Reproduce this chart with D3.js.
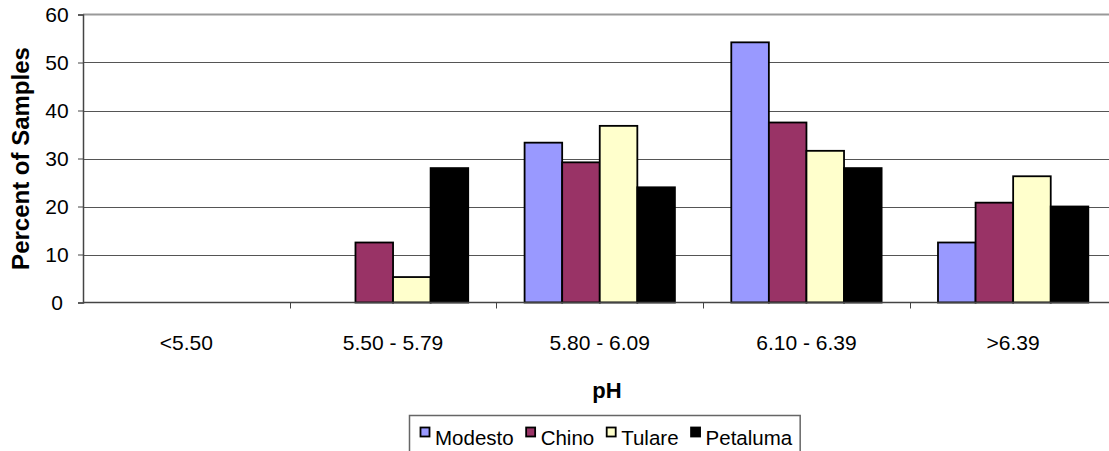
<!DOCTYPE html>
<html>
<head>
<meta charset="utf-8">
<script src="https://cdn.jsdelivr.net/npm/d3@7/dist/d3.min.js"></script>
<style>
  html, body { margin: 0; padding: 0; background: #fff; }
  svg { display: block; }
  text { font-family: Arial, "Liberation Sans", sans-serif; fill: #000; }
</style>
</head>
<body>
<svg id="chart" width="1109" height="451"></svg>
<script>
// pH ranges and percent of samples in each range, per site
const categories = ["<5.50", "5.50 - 5.79", "5.80 - 6.09", "6.10 - 6.39", ">6.39"];
const seriesNames = ["Modesto", "Chino", "Tulare", "Petaluma"];
const modesto  = [0, 0, 33.3, 54.2, 12.5];
const chino    = [0, 12.5, 29.2, 37.5, 20.8];
const tulare   = [0, 5.3, 36.8, 31.6, 26.3];
const petaluma = [0, 28.0, 24.0, 28.0, 20.0];
const seriesValues = [modesto, chino, tulare, petaluma];
const seriesColors = ["#9999FF", "#993366", "#FFFFCC", "#000000"];
const yTicks = [0, 10, 20, 30, 40, 50, 60];

const svg = d3.select("#chart");

const plot = { left: 83, right: 1116.5, top: 14.5, bottom: 302.5 };

const x = d3.scaleBand()
  .domain(categories)
  .range([plot.left, plot.right])
  .paddingInner(0).paddingOuter(0);

// four bars per group, with the gap between groups 1.5 bar widths
const barW = x.bandwidth() / 5.5;
const xInner = d3.scaleBand()
  .domain(seriesNames)
  .range([barW * 0.75, barW * 4.75])
  .padding(0);

const y = d3.scaleLinear().domain([0, 60]).range([plot.bottom, plot.top]);

// horizontal gridlines
svg.append("g")
  .selectAll("line")
  .data(yTicks.filter(t => t > 0 && t < 60))
  .join("line")
  .attr("x1", plot.left).attr("x2", plot.right)
  .attr("y1", d => Math.round(y(d)) + 0.5).attr("y2", d => Math.round(y(d)) + 0.5)
  .attr("stroke", "#555").attr("stroke-width", 1);

// plot area top border
svg.append("line")
  .attr("x1", plot.left).attr("x2", plot.right)
  .attr("y1", y(60)).attr("y2", y(60))
  .attr("stroke", "#999").attr("stroke-width", 2);

// bars
const groups = svg.append("g")
  .selectAll("g")
  .data(categories)
  .join("g")
  .attr("transform", d => `translate(${x(d)},0)`);

groups.selectAll("rect")
  .data((c, i) => seriesNames.map((s, k) => ({ s, k, v: seriesValues[k][i] })).filter(d => d.v > 0))
  .join("rect")
  .attr("x", d => xInner(d.s))
  .attr("width", xInner.bandwidth())
  .attr("y", d => y(d.v))
  .attr("height", d => y(0) - y(d.v))
  .attr("fill", d => seriesColors[d.k])
  .attr("stroke", "#000")
  .attr("stroke-width", 1.8);

// y axis (labels centred in a column left of the ticks)
const yAxis = svg.append("g")
  .attr("transform", `translate(${plot.left},0)`)
  .call(d3.axisLeft(y).tickValues(yTicks).tickSize(5).tickPadding(0).tickFormat(d3.format("d")));
yAxis.select(".domain").attr("stroke", "#444").attr("stroke-width", 1.5);
yAxis.selectAll(".tick line").attr("stroke", "#444");
yAxis.selectAll(".tick text")
  .attr("x", 57 - plot.left)
  .attr("text-anchor", "middle")
  .style("font-family", "Arial, 'Liberation Sans', sans-serif")
  .style("font-size", "21px").attr("fill", "#000");

// x axis
svg.append("line")
  .attr("x1", plot.left).attr("x2", plot.right)
  .attr("y1", plot.bottom).attr("y2", plot.bottom)
  .attr("stroke", "#444").attr("stroke-width", 1.5);
svg.append("g")
  .selectAll("line")
  .data(categories.slice(1))
  .join("line")
  .attr("x1", d => Math.round(x(d)) + 0.5).attr("x2", d => Math.round(x(d)) + 0.5)
  .attr("y1", plot.bottom).attr("y2", plot.bottom + 6)
  .attr("stroke", "#444");

svg.append("g")
  .selectAll("text")
  .data(categories)
  .join("text")
  .attr("x", d => x(d) + x.bandwidth() / 2)
  .attr("y", 349.5)
  .attr("text-anchor", "middle")
  .style("font-size", "21px")
  .text(d => d);

// axis titles
svg.append("text")
  .attr("x", 607)
  .attr("y", 398)
  .attr("text-anchor", "middle")
  .style("font-size", "22px").style("font-weight", "bold")
  .text("pH");

svg.append("text")
  .attr("transform", `translate(29,${(plot.top + plot.bottom) / 2}) rotate(-90)`)
  .attr("text-anchor", "middle")
  .style("font-size", "24px").style("font-weight", "bold")
  .text("Percent of Samples");

// legend
const legend = svg.append("g");
const legendBox = legend.append("rect")
  .attr("x", 409.5).attr("y", 415.5)
  .attr("height", 60)
  .attr("fill", "#fff").attr("stroke", "#666").attr("stroke-width", 1.5);

let lx = 420;
seriesNames.forEach((name, k) => {
  legend.append("rect")
    .attr("x", lx + 0.5).attr("y", 427.5)
    .attr("width", 9).attr("height", 9)
    .attr("fill", seriesColors[k])
    .attr("stroke", "#000").attr("stroke-width", 1.8);
  const t = legend.append("text")
    .attr("x", lx + 15).attr("y", 445)
    .style("font-size", "20.5px")
    .text(name);
  lx += 15 + t.node().getComputedTextLength() + 12;
});
legendBox.attr("width", lx - 409.5 - 4);
</script>
</body>
</html>
